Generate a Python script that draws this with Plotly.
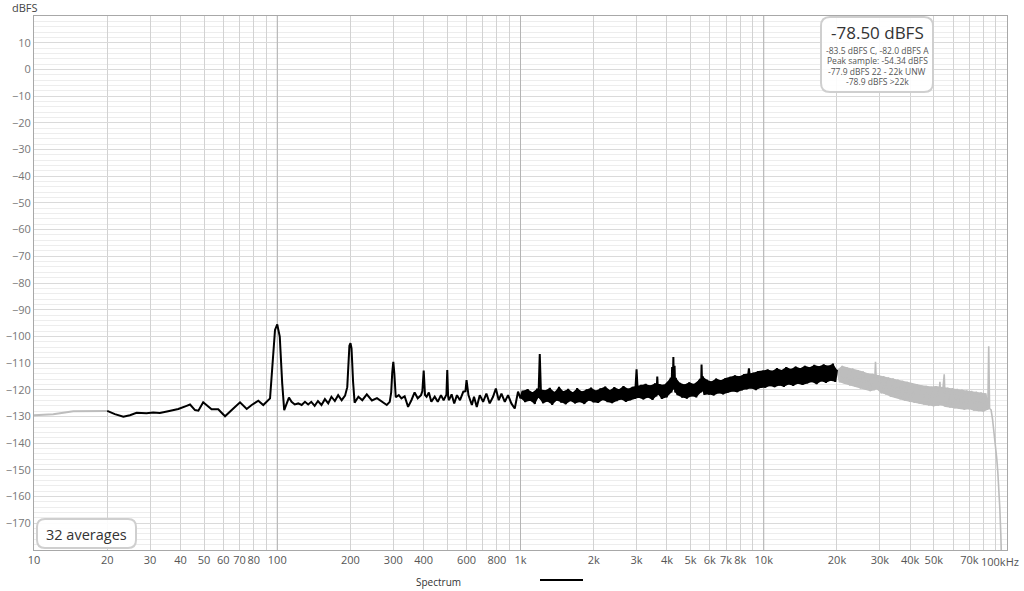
import plotly.graph_objects as go

# ---------------- data (frequency Hz, level dBFS) ----------------
grey_low = [(10, -129.5), (12, -129.2), (14.5, -128.0), (17.5, -128.1), (20, -127.9)]

black_low = [
    (20, -127.9), (21.5, -129.1), (23.3, -130.1), (24.8, -129.5), (26.4, -128.6), (29, -128.8),
    (30.9, -128.5), (32.9, -128.7), (35.6, -128.0), (39.2, -127.2), (42.4, -126.0), (43.8, -125.5),
    (45.9, -127.6), (47.4, -127.8), (49.6, -124.7), (53.7, -127.3), (57.2, -127.3), (61, -129.9),
    (66, -127.0), (70.3, -124.7), (74.9, -127.2), (78.5, -125.7), (83.6, -124.1), (87.6, -125.7),
    (93.4, -123.2), (95.7, -111.4), (97.9, -97.6), (100, -95.5), (102.4, -100.1), (104.8, -117.6),
    (106.8, -127.6), (111.7, -122.9), (114.5, -124.5), (118, -125.5), (122, -125.1), (126, -125.7),
    (130, -124.5), (134, -125.5), (138, -124.5), (142.5, -126.0), (147, -124.2), (152, -125.7),
    (157, -123.5), (162, -125.1), (167, -122.6), (172.5, -124.2), (178, -122.0), (184, -123.9),
    (190, -122.2), (194, -119.0), (196, -109.0), (198, -103.5), (200, -102.5), (202, -104.5),
    (205, -117.0), (208, -124.8), (215.6, -122.6), (223.7, -123.9), (233.4, -121.7), (245, -124.0),
    (257, -123.1), (269, -124.5), (282, -125.7), (290, -124.5), (294, -121.0), (297, -113.5),
    (300, -109.5), (303, -114.0), (307, -122.8), (316, -122.0), (324, -123.2), (334, -122.4),
    (345, -126.4), (356, -123.9), (367, -121.0), (378, -123.2), (390, -122.0), (395, -120.5),
    (400, -112.8), (405, -122.0), (411, -122.6), (420, -121.0), (430, -124.5), (444, -122.6),
    (457, -124.5), (471, -122.0), (483, -123.9), (496, -121.8), (500, -112.6), (504, -122.5),
    (508, -123.9), (521, -121.7), (534, -125.1), (548, -122.0), (564, -123.9), (582, -120.7),
    (594, -120.5), (600, -116.4), (606, -120.8), (611, -122.0), (631, -125.7), (644, -122.6),
    (661, -126.4), (680, -122.0), (702, -124.5), (724, -121.4), (747, -125.1), (771, -122.6),
    (792, -119.5), (814, -123.9), (835, -121.4), (862, -124.5), (889, -122.0), (917, -125.1),
    (947, -127.0), (977, -120.7),
]

black_band = [
    (1000, -123.2), (1020, -120.4), (1045, -124.6), (1070, -119.8), (1095, -124.1), (1120, -120.9),
    (1145, -125.3), (1170, -119.6), (1185, -123.0), (1200, -106.6), (1215, -122.5), (1240, -125.0),
    (1265, -120.2), (1290, -124.4), (1320, -119.3), (1350, -125.6), (1380, -120.8), (1410, -124.0),
    (1440, -118.9), (1470, -124.8), (1500, -120.5), (1535, -125.4), (1570, -119.7), (1605, -124.2),
    (1640, -120.9), (1675, -125.1), (1710, -119.4), (1750, -124.6), (1790, -120.6), (1830, -125.3),
    (1870, -119.9), (1910, -124.0), (1950, -119.2), (1995, -124.7), (2040, -120.3), (2085, -124.9),
    (2130, -119.5), (2180, -123.8), (2230, -118.8), (2280, -124.6), (2330, -120.1), (2380, -125.0),
    (2430, -119.0), (2485, -124.2), (2540, -119.8), (2595, -123.6), (2650, -118.6), (2710, -124.5),
    (2770, -119.6), (2830, -123.9), (2890, -118.9), (2950, -123.4), (2975, -118.0), (3000, -112.3),
    (3025, -118.6), (3060, -123.0), (3130, -118.2), (3200, -123.6), (3270, -117.8), (3340, -122.9),
    (3410, -118.4), (3490, -123.8), (3570, -117.6), (3620, -122.5), (3650, -115.0), (3680, -121.8),
    (3730, -117.9), (3810, -123.4), (3900, -118.1), (3990, -122.8), (4080, -117.8), (4150, -115.5),
    (4175, -121.0), (4200, -111.5), (4225, -120.0), (4250, -107.7), (4275, -119.5), (4300, -111.0),
    (4325, -121.0), (4350, -115.5), (4420, -122.0), (4520, -117.4), (4620, -122.9), (4720, -118.0),
    (4830, -123.3), (4940, -117.2), (5050, -122.4), (5160, -117.8), (5280, -122.8), (5400, -116.9),
    (5480, -116.0), (5520, -121.0), (5550, -110.5), (5590, -120.5), (5620, -115.0), (5700, -121.9),
    (5830, -116.2), (5960, -121.8), (6090, -116.9), (6230, -122.1), (6370, -115.8), (6510, -121.3),
    (6660, -116.4), (6810, -121.7), (6960, -115.6), (7120, -121.0), (7280, -115.2), (7440, -120.6),
    (7610, -114.6), (7780, -120.9), (7950, -114.9), (8130, -120.2), (8310, -114.1), (8500, -119.8),
    (8690, -112.0), (8880, -119.5), (9080, -113.6), (9280, -120.1), (9490, -113.0), (9700, -119.3),
    (9920, -112.8), (10140, -119.2), (10370, -112.4), (10600, -118.6), (10840, -112.9), (11080, -119.0),
    (11330, -111.9), (11580, -118.4), (11840, -112.6), (12100, -118.9), (12370, -111.5), (12650, -118.0),
    (12930, -112.2), (13220, -118.5), (13520, -111.3), (13820, -117.7), (14130, -111.9), (14440, -118.2),
    (14760, -111.0), (15090, -117.6), (15430, -111.6), (15780, -117.1), (16130, -110.7), (16490, -117.9),
    (16860, -111.2), (17240, -116.8), (17630, -110.5), (18020, -117.4), (18420, -111.0), (18830, -116.6),
    (19250, -110.2), (19680, -117.0), (20000, -112.5),
]

grey_high = [
    (20000, -112.5), (20500, -117.2), (21000, -111.0), (21500, -117.8), (22000, -111.6), (22600, -118.4),
    (23200, -112.0), (23800, -118.9), (24400, -112.6), (25000, -119.6), (25600, -113.1), (26200, -119.9),
    (26800, -113.8), (27400, -120.5), (28000, -114.0), (28500, -120.2), (28800, -109.5), (29100, -119.8),
    (29700, -114.6), (30400, -121.3), (31100, -114.9), (31800, -121.8), (32500, -115.3), (33200, -122.6),
    (34000, -115.7), (34800, -123.0), (35600, -116.2), (36400, -123.6), (37200, -116.6), (38000, -124.1),
    (38900, -117.0), (39800, -124.4), (40700, -117.5), (41600, -124.9), (42600, -117.9), (43600, -125.2),
    (44600, -118.3), (45600, -125.6), (46600, -118.5), (47700, -125.9), (48800, -118.8), (49900, -126.2),
    (51000, -118.6), (52200, -126.0), (53000, -117.0), (53600, -125.8), (54600, -119.0), (55200, -114.2),
    (55800, -126.4), (57000, -119.2), (58300, -126.7), (59600, -119.4), (61000, -127.0), (62400, -119.6),
    (63800, -127.2), (65300, -119.9), (66800, -127.5), (68300, -120.2), (69900, -127.3), (71500, -120.4),
    (73100, -127.8), (74800, -120.7), (76500, -128.0), (78200, -121.0), (80000, -128.2), (81800, -121.3),
    (83400, -127.5), (84100, -103.7), (84800, -127.0), (86000, -127.5), (87200, -131.0), (88400, -135.5),
    (89600, -140.5), (90700, -145.5), (91700, -151.0), (92600, -157.0), (93500, -165.0), (94300, -174.0),
    (95000, -183.0), (96000, -200.0),
]

# narrow tones that stick out of the noise band (drawn by the line only)
spike_freqs = [1200, 3000, 3650, 4200, 4250, 4300, 5550, 8690, 28800, 53000, 55200, 84100]

y_ticks = [10, 0, -10, -20, -30, -40, -50, -60, -70, -80, -90, -100, -110, -120, -130, -140, -150, -160, -170]
x_grid = [10, 20, 30, 40, 50, 60, 70, 80, 90,
          100, 200, 300, 400, 500, 600, 700, 800, 900,
          1000, 2000, 3000, 4000, 5000, 6000, 7000, 8000, 9000,
          10000, 20000, 30000, 40000, 50000, 60000, 70000, 80000, 90000, 100000]
x_labels = ["10", "20", "30", "40", "50", "60", "70", "80", "",
            "100", "200", "300", "400", "", "600", "", "800", "",
            "1k", "2k", "3k", "4k", "5k", "6k", "7k", "8k", "",
            "10k", "20k", "30k", "40k", "50k", "", "70k", "", "", ""]
last_x_label = "100kHz"
decades = [100, 1000, 10000]

readout_main = "-78.50 dBFS"
readout_lines = ["-83.5 dBFS C, -82.0 dBFS A", "Peak sample: -54.34 dBFS",
                 "-77.9 dBFS 22 - 22k UNW", "-78.9 dBFS >22k"]
averages_text = "32 averages"
legend_name = "Spectrum"

# ---------------- layout helpers ----------------
W, H = 1024, 591
L, R, T, B = 34, 17, 16, 41
PW, PH = W - L - R, H - T - B
FONT = "Open Sans, Noto Sans, sans-serif"


def px(x):
    return (x - L) / PW


def py(y):
    return (H - B - y) / PH


def rounded_box(x0, y0, x1, y1, r):
    rx, ry = r / PW, r / PH
    a, b, c, d = px(x0), px(x1), py(y1), py(y0)  # left, right, bottom, top
    return (f"M {a+rx},{d} L {b-rx},{d} Q {b},{d} {b},{d-ry} L {b},{c+ry} Q {b},{c} {b-rx},{c} "
            f"L {a+rx},{c} Q {a},{c} {a},{c+ry} L {a},{d-ry} Q {a},{d} {a+rx},{d} Z")


def extremes(pts, kind):
    """Crest (kind=+1) or trough (kind=-1) vertices of a noisy trace, for the dense band fill."""
    out = [pts[0]]
    for i in range(1, len(pts) - 1):
        a, b, c = pts[i - 1][1], pts[i][1], pts[i + 1][1]
        if kind > 0 and b >= a and b >= c and pts[i][0] not in spike_freqs:
            out.append(pts[i])
        elif kind < 0 and b <= a and b <= c:
            out.append(pts[i])
    out.append(pts[-1])
    return out


fig = go.Figure()

# darker decade grid lines
for dv in decades:
    fig.add_trace(go.Scatter(x=[dv, dv], y=[-180, 20], mode="lines",
                             line=dict(color="#b4b4b4", width=1), hoverinfo="skip", showlegend=False))

GREY = "#bdbdbd"


def add_band(pts, color):
    lo = extremes(pts, -1)
    hi = extremes(pts, +1)
    fig.add_trace(go.Scatter(x=[p[0] for p in lo], y=[p[1] for p in lo], mode="lines",
                             line=dict(width=0, color=color), hoverinfo="skip", showlegend=False))
    fig.add_trace(go.Scatter(x=[p[0] for p in hi], y=[p[1] for p in hi], mode="lines",
                             line=dict(width=0, color=color), fill="tonexty", fillcolor=color,
                             hoverinfo="skip", showlegend=False))


add_band([p for p in grey_high if p[0] <= 85000], GREY)
fig.add_trace(go.Scatter(x=[p[0] for p in grey_low], y=[p[1] for p in grey_low], mode="lines",
                         line=dict(color=GREY, width=2), showlegend=False))
fig.add_trace(go.Scatter(x=[p[0] for p in grey_high], y=[p[1] for p in grey_high], mode="lines",
                         line=dict(color=GREY, width=1.6), showlegend=False))

add_band(black_band, "#000000")
black = black_low + black_band
fig.add_trace(go.Scatter(x=[p[0] for p in black], y=[p[1] for p in black], mode="lines",
                         line=dict(color="#000000", width=2), name=legend_name, showlegend=False))

shapes = [
    # fade grid outside 20 Hz - 20 kHz
    dict(type="rect", xref="paper", yref="paper", x0=0, x1=0.30103 / 4, y0=0, y1=1,
         fillcolor="white", opacity=0.85, line=dict(width=0), layer="between"),
    dict(type="rect", xref="paper", yref="paper", x0=3.30103 / 4, x1=1, y0=0, y1=1,
         fillcolor="white", opacity=0.85, line=dict(width=0), layer="between"),
    # readout box
    dict(type="path", xref="paper", yref="paper", path=rounded_box(821, 17, 933, 92, 9),
         fillcolor="rgba(255,255,255,0.9)", line=dict(color="#cfcfcf", width=2), layer="above"),
    # averages box
    dict(type="path", xref="paper", yref="paper", path=rounded_box(37, 519, 136, 548, 8),
         fillcolor="rgba(255,255,255,0.9)", line=dict(color="#cfcfcf", width=2), layer="above"),
    # legend sample line
    dict(type="line", xref="paper", yref="paper", x0=px(540), x1=px(583), y0=py(580), y1=py(580),
         line=dict(color="#000000", width=2), layer="above"),
]

annotations = [
    dict(text="dBFS", x=px(10), y=py(7), xanchor="left", yanchor="middle",
         font=dict(size=11, color="#444444", family=FONT)),
    dict(text=readout_main, x=px(877), y=py(33), xanchor="center", yanchor="middle",
         font=dict(size=17, color="#333333", family=FONT)),
    dict(text=averages_text, x=px(86), y=py(534), xanchor="center", yanchor="middle",
         font=dict(size=14.5, color="#333333", family=FONT)),
    dict(text=legend_name, x=px(438), y=py(582), xanchor="center", yanchor="middle",
         font=dict(size=10, color="#333333", family=FONT)),
    dict(text=last_x_label, x=px(1021), y=py(561), xanchor="right", yanchor="middle",
         font=dict(size=11, color="#555555", family=FONT)),
]
for i, t in enumerate(readout_lines):
    annotations.append(dict(text=t, x=px(877), y=py(50 + i * 10.6), xanchor="center", yanchor="middle",
                            font=dict(size=8.5, color="#555555", family=FONT)))
for a in annotations:
    a.update(xref="paper", yref="paper", showarrow=False)

fig.update_layout(
    width=W, height=H,
    margin=dict(l=L, r=R, t=T, b=B, pad=0, autoexpand=False),
    paper_bgcolor="white", plot_bgcolor="white",
    font=dict(family=FONT),
    showlegend=False,
    shapes=shapes,
    annotations=annotations,
    xaxis=dict(type="log", range=[0.9999999, 5.0000001], tickmode="array", tickvals=x_grid, ticktext=x_labels,
               automargin=False, tickangle=0, ticklabeloverflow="allow",
               showgrid=True, gridcolor="#d2d2d2", gridwidth=1, zeroline=False,
               showline=True, linecolor="#a8a8a8", linewidth=1, mirror=True, ticks="",
               tickfont=dict(size=11, color="#555555", family=FONT)),
    yaxis=dict(range=[-180, 20], tickmode="array", tickvals=y_ticks, automargin=False,
               showgrid=True, gridcolor="#dadada", gridwidth=1, zeroline=False,
               showline=True, linecolor="#a8a8a8", linewidth=1, mirror=True, ticks="",
               tickfont=dict(size=11, color="#777777", family=FONT),
               minor=dict(dtick=2, showgrid=True, gridcolor="#ededed", gridwidth=1)),
)

fig.write_html("out.html", config={"displayModeBar": False},
               post_script="document.body.style.margin='0';document.body.style.overflow='hidden';")
